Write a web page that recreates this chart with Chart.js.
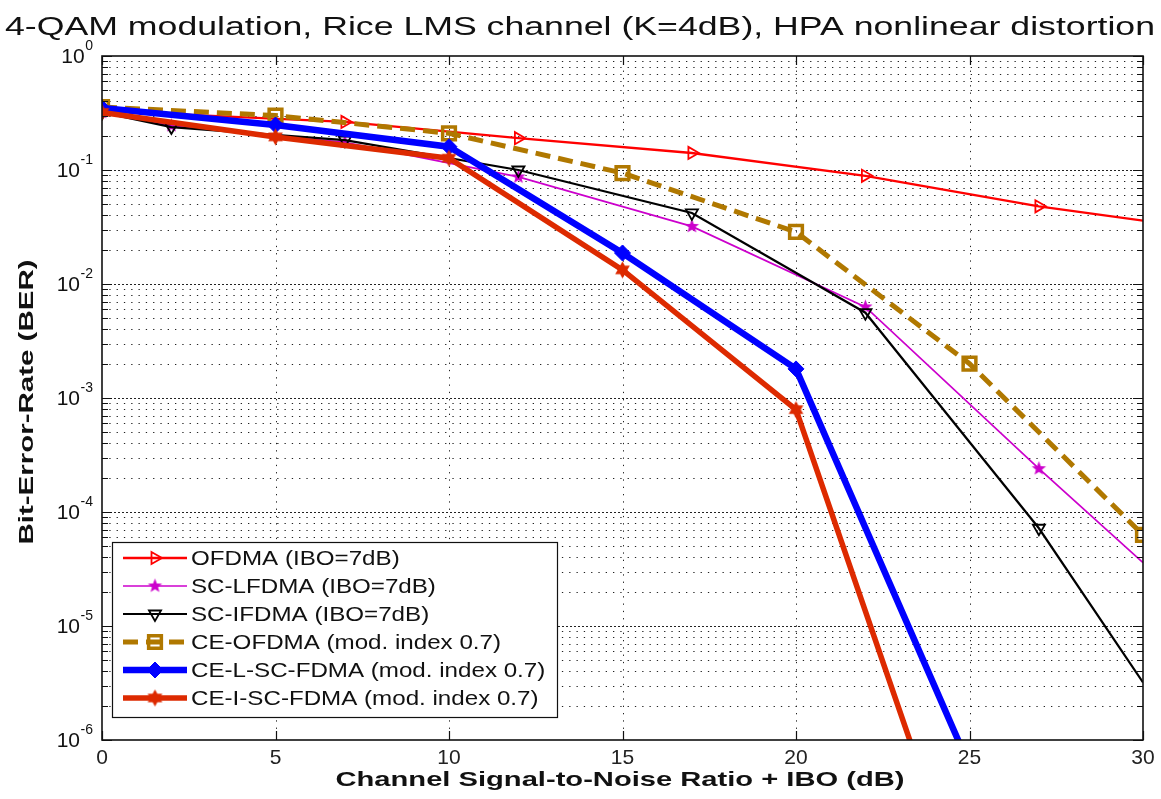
<!DOCTYPE html>
<html>
<head>
<meta charset="utf-8">
<script src="https://cdn.jsdelivr.net/npm/chart.js@4.4.1/dist/chart.umd.min.js"></script>
<style>
html,body{margin:0;padding:0;background:#fff;}
</style>
</head>
<body>
<canvas id="ber" width="1161" height="799"></canvas>
<script>
const titleText = '4-QAM modulation, Rice LMS channel (K=4dB), HPA nonlinear distortion'
const xTitle = 'Channel Signal-to-Noise Ratio + IBO (dB)'
const yTitle = 'Bit-Error-Rate (BER)'
const xTicks = [0, 5, 10, 15, 20, 25, 30]
const yExps = [0, -1, -2, -3, -4, -5, -6]

const names = [
    'OFDMA (IBO=7dB)',
    'SC-LFDMA (IBO=7dB)',
    'SC-IFDMA (IBO=7dB)',
    'CE-OFDMA (mod. index 0.7)',
    'CE-L-SC-FDMA (mod. index 0.7)',
    'CE-I-SC-FDMA (mod. index 0.7)'
]

// values
const ofdmaX = [0, 7, 12, 17, 22, 27, 30]
const ofdmaY = [0.33, 0.264, 0.19, 0.141, 0.089, 0.048, 0.036]
const lfdmaX = [0, 2, 7, 12, 17, 22, 27, 30]
const lfdmaY = [0.32, 0.245, 0.175, 0.087, 0.032, 0.0063, 2.4e-4, 3.6e-5]
const ifdmaX = [0, 2, 7, 12, 17, 22, 27, 30]
const ifdmaY = [0.32, 0.238, 0.183, 0.1, 0.042, 0.0056, 7.2e-5, 3.2e-6]
const ceOfdmaX = [0, 5, 10, 15, 20, 25, 30]
const ceOfdmaY = [0.357, 0.30, 0.21, 0.094, 0.0286, 0.0020, 6.3e-5]
const ceLX = [0, 5, 10, 15, 20, 25]
const ceLY = [0.35, 0.248, 0.16, 0.0187, 0.0018, 5.9e-7]
const ceIX = [0, 5, 10, 15, 20, 25]
const ceIY = [0.32, 0.195, 0.127, 0.0133, 7.9e-4, 3e-8]

const FONT = '"Liberation Sans", Arial, Helvetica, sans-serif'

function pts(xs, ys) {
    return xs.map((x, i) => ({x: x, y: ys[i]}))
}

function starCanvas(color, n, outer, inner) {
    const c = document.createElement('canvas')
    const s = Math.ceil(outer * 2 + 2)
    c.width = s; c.height = s
    const g = c.getContext('2d')
    g.fillStyle = color
    g.beginPath()
    for (let i = 0; i < n * 2; i++) {
        const r = i % 2 ? inner : outer
        const a = -Math.PI / 2 + i * Math.PI / n
        g.lineTo(s / 2 + r * Math.cos(a), s / 2 + r * Math.sin(a))
    }
    g.closePath()
    g.fill()
    return c
}

const magStar = starCanvas('#cc00cc', 5, 7.5, 3.2)
const redStar = starCanvas('#dd2a00', 6, 8.5, 4.8)
const noEnd = c => (c.raw && c.raw.x === 30 ? 0 : 7)

const datasets = [
    {label: names[0], data: pts(ofdmaX, ofdmaY), borderColor: '#ff0000', borderWidth: 2.3,
     pointStyle: 'triangle', pointRotation: 90, pointRadius: noEnd, pointBorderWidth: 1.8,
     pointBorderColor: '#ff0000', pointBackgroundColor: 'rgba(0,0,0,0)', order: 6},
    {label: names[1], data: pts(lfdmaX, lfdmaY), borderColor: '#cc00cc', borderWidth: 1.7,
     pointStyle: magStar, pointRadius: noEnd, pointBorderColor: '#cc00cc',
     pointBackgroundColor: '#cc00cc', order: 5},
    {label: names[2], data: pts(ifdmaX, ifdmaY), borderColor: '#000000', borderWidth: 2.2,
     pointStyle: 'triangle', pointRotation: 180, pointRadius: noEnd, pointBorderWidth: 1.8,
     pointBorderColor: '#000000', pointBackgroundColor: 'rgba(0,0,0,0)', order: 4},
    {label: names[3], data: pts(ceOfdmaX, ceOfdmaY), borderColor: '#b07800', borderWidth: 5,
     borderDash: [15, 8], pointStyle: 'rect', pointRadius: 9, pointBorderWidth: 3.5,
     pointBorderColor: '#b07800', pointBackgroundColor: 'rgba(0,0,0,0)', order: 3},
    {label: names[4], data: pts(ceLX, ceLY), borderColor: '#0000ff', borderWidth: 6.5,
     pointStyle: 'rectRot', pointRadius: 8, pointBorderWidth: 1,
     pointBorderColor: '#0000ff', pointBackgroundColor: '#0000ff', order: 2},
    {label: names[5], data: pts(ceIX, ceIY), borderColor: '#dd2a00', borderWidth: 5.5,
     pointStyle: redStar, pointRadius: 8, pointBorderColor: '#dd2a00',
     pointBackgroundColor: '#dd2a00', order: 1}
]
datasets.forEach(d => { d.fill = false; d.tension = 0; d.showLine = true })

function stretchText(ctx, text, cx, cy, sx) {
    ctx.save()
    ctx.translate(cx, cy)
    ctx.scale(sx, 1)
    ctx.fillText(text, 0, 0)
    ctx.restore()
}

const frame = {
    id: 'frame',
    beforeDatasetsDraw(chart) {
        const {ctx, chartArea: a, scales: {x, y}} = chart
        ctx.save()
        ctx.lineWidth = 1
        ctx.strokeStyle = '#222'
        yExps.forEach(e => {
            for (let m = 1; m < 10; m++) {
                const v = m * Math.pow(10, e)
                if (v >= 0.9999 || v < 1.1e-6) continue
                const py = Math.round(y.getPixelForValue(v)) + 0.5
                ctx.setLineDash(m === 1 ? [2, 2] : [1.3, 6])
                ctx.beginPath(); ctx.moveTo(a.left, py); ctx.lineTo(a.right, py); ctx.stroke()
            }
        })
        ctx.setLineDash([1.3, 6])
        xTicks.forEach(v => {
            if (v === xTicks[0] || v === xTicks[xTicks.length - 1]) return
            const px = Math.round(x.getPixelForValue(v)) + 0.5
            ctx.beginPath(); ctx.moveTo(px, a.top); ctx.lineTo(px, a.bottom); ctx.stroke()
        })
        ctx.restore()
    },
    afterDatasetsDraw(chart) {
        const {ctx, chartArea: a, scales: {x, y}} = chart
        ctx.save()
        ctx.strokeStyle = '#111'
        ctx.lineWidth = 1.2
        yExps.forEach(e => {
            for (let m = 1; m < 10; m++) {
                const v = m * Math.pow(10, e)
                if (v > 1.0001) continue
                const py = Math.round(y.getPixelForValue(v)) + 0.5
                const len = m === 1 ? 10 : 6
                ctx.beginPath()
                ctx.moveTo(a.left, py); ctx.lineTo(a.left + len, py)
                ctx.moveTo(a.right, py); ctx.lineTo(a.right - len, py)
                ctx.stroke()
            }
        })
        xTicks.forEach(v => {
            const px = Math.round(x.getPixelForValue(v)) + 0.5
            ctx.beginPath()
            ctx.moveTo(px, a.bottom); ctx.lineTo(px, a.bottom - 9)
            ctx.moveTo(px, a.top); ctx.lineTo(px, a.top + 9)
            ctx.stroke()
        })
        ctx.lineWidth = 1.6
        ctx.strokeRect(a.left, a.top, a.right - a.left, a.bottom - a.top)
        ctx.restore()
    },
    afterDraw(chart) {
        const {ctx, chartArea: a, scales: {y}} = chart
        ctx.save()
        ctx.fillStyle = '#111'
        // title
        ctx.font = '26px ' + FONT
        ctx.textAlign = 'center'
        ctx.textBaseline = 'middle'
        let w = ctx.measureText(titleText).width
        stretchText(ctx, titleText, 580, 28, 1150 / w)
        // axis titles
        ctx.font = 'bold 21px ' + FONT
        w = ctx.measureText(xTitle).width
        stretchText(ctx, xTitle, 620, 780, 569 / w)
        w = ctx.measureText(yTitle).width
        ctx.save()
        ctx.translate(27, 402)
        ctx.rotate(-Math.PI / 2)
        stretchText(ctx, yTitle, 0, 0, 285 / w)
        ctx.restore()
        // y tick labels with exponents
        ctx.textAlign = 'left'
        yExps.forEach(e => {
            const py = y.getPixelForValue(Math.pow(10, e))
            const ex = e === 0 ? '0' : '-' + Math.abs(e)
            ctx.font = '14px ' + FONT
            const w2 = ctx.measureText(ex).width
            ctx.font = '21px ' + FONT
            const w1 = ctx.measureText('10').width
            const x2 = 93 - w2
            ctx.fillText('10', x2 - w1 - 0.5, py + 1)
            ctx.font = '14px ' + FONT
            ctx.fillText(ex, x2, py - 10)
        })
        // legend
        const lx = 112, ly = 542, lw = 445, lh = 175
        ctx.fillStyle = '#fff'
        ctx.fillRect(lx, ly, lw, lh)
        ctx.strokeStyle = '#111'
        ctx.lineWidth = 1.2
        ctx.strokeRect(lx + 0.5, ly + 0.5, lw, lh)
        chart.data.datasets.forEach((d, i) => {
            const ry = 558 + i * 28
            ctx.save()
            ctx.strokeStyle = d.borderColor
            ctx.lineWidth = d.borderWidth
            ctx.setLineDash(d.borderDash || [])
            ctx.beginPath(); ctx.moveTo(123, ry); ctx.lineTo(187, ry); ctx.stroke()
            ctx.setLineDash([])
            ctx.fillStyle = d.pointBackgroundColor
            ctx.strokeStyle = d.pointBorderColor
            ctx.lineWidth = d.pointBorderWidth || 1
            Chart.helpers.drawPoint(ctx, {
                pointStyle: d.pointStyle,
                radius: typeof d.pointRadius === 'number' ? d.pointRadius : 7,
                rotation: d.pointRotation || 0,
                borderWidth: d.pointBorderWidth || 1
            }, 155, ry)
            ctx.restore()
            ctx.fillStyle = '#111'
            ctx.font = '21px ' + FONT
            ctx.textAlign = 'left'
            ctx.textBaseline = 'middle'
            stretchText(ctx, d.label, 191, ry + 1, 1.15)
        })
        ctx.restore()
    }
}

new Chart('ber', {
    type: 'line',
    data: {datasets: datasets},
    options: {
        responsive: false,
        animation: false,
        events: [],
        layout: {padding: {left: 0, top: 56, right: 18, bottom: 0}},
        plugins: {legend: {display: false}, title: {display: false}, tooltip: {enabled: false}},
        scales: {
            x: {
                type: 'linear', min: 0, max: 30,
                afterBuildTicks: s => { s.ticks = xTicks.map(v => ({value: v})) },
                afterFit: s => { s.height = 59 },
                grid: {display: false},
                border: {display: false},
                ticks: {font: {family: FONT, size: 21}, color: '#222', padding: -2, maxRotation: 0}
            },
            y: {
                type: 'logarithmic', min: 1e-6, max: 1,
                afterFit: s => { s.width = 102 },
                grid: {display: false},
                border: {display: false},
                ticks: {display: false}
            }
        }
    },
    plugins: [frame]
})
</script>
</body>
</html>
